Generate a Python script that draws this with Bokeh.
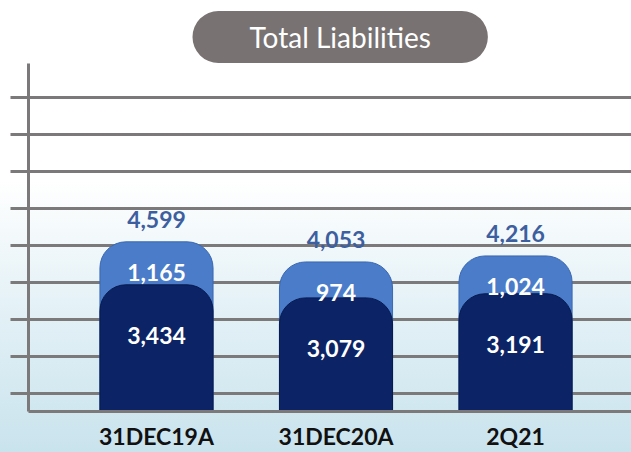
from bokeh.plotting import figure
from bokeh.models import ColumnDataSource, Range1d, FixedTicker
from bokeh.core.properties import value
from bokeh.embed import file_html
from bokeh.resources import INLINE

# ---- data ----
categories = ["31DEC19A", "31DEC20A", "2Q21"]
base_values = [3434, 3079, 3191]
upper_values = [1165, 974, 1024]
totals = [4599, 4053, 4216]
grid_values = [500, 1500, 2500, 3500, 4500, 5500, 6500, 7500, 8500]
title_text = "Total Liabilities"

xs = list(range(len(categories)))
src = ColumnDataSource(dict(
    x=xs,
    base=base_values,
    total=totals,
    base_label=[f"{v:,}" for v in base_values],
    upper_label=[f"{v:,}" for v in upper_values],
    total_label=[f"{v:,}" for v in totals],
))

GRAY = "#7b7979"
FONT = value("Lato")

p = figure(width=631, height=452,
           x_range=Range1d(-0.713, 2.646), y_range=Range1d(0, 9432),
           output_backend="svg", toolbar_location=None,
           min_border_left=28, min_border_right=0,
           min_border_top=63, min_border_bottom=40,
           title=title_text)

p.background_fill_color = None
p.border_fill_color = None
p.outline_line_color = None
p.styles = {"background": "linear-gradient(to bottom, #ffffff 0%, #ffffff 40%, #e9f4f8 62%, #c9e3ed 100%)"}

# title pill
t = p.title
t.align = "left"
t.offset = 164
t.standoff = 1
t.text_color = "white"
t.text_font = "Lato"
t.text_font_style = "normal"
t.text_font_size = "28px"
t.background_fill_color = "#787272"
t.border_radius = 26
t.padding = {"left": 57, "right": 57, "top": 9, "bottom": 9}

# grid
p.xgrid.visible = False
p.ygrid.ticker = FixedTicker(ticks=grid_values)
p.ygrid.grid_line_color = GRAY
p.ygrid.grid_line_width = 3

# y axis: only line + outward stubs
p.yaxis.ticker = FixedTicker(ticks=grid_values)
p.yaxis.axis_line_color = GRAY
p.yaxis.axis_line_width = 3
p.yaxis.major_tick_out = 18
p.yaxis.major_tick_in = 0
p.yaxis.major_tick_line_color = GRAY
p.yaxis.major_tick_line_width = 3
p.yaxis.minor_tick_out = 0
p.yaxis.minor_tick_in = 0
p.yaxis.major_label_overrides = {v: "" for v in grid_values}
p.yaxis.major_label_standoff = 0

# x axis
p.xaxis.ticker = FixedTicker(ticks=xs)
p.xaxis.major_label_overrides = {i: c for i, c in zip(xs, categories)}
p.xaxis.axis_line_color = GRAY
p.xaxis.axis_line_width = 3
p.xaxis.major_tick_out = 0
p.xaxis.major_tick_in = 0
p.xaxis.minor_tick_out = 0
p.xaxis.minor_tick_in = 0
p.xaxis.major_label_standoff = 10
p.xaxis.major_label_text_font = "Lato"
p.xaxis.major_label_text_font_style = "bold"
p.xaxis.major_label_text_font_size = "23px"
p.xaxis.major_label_text_color = "#111111"

# bars
p.vbar(x="x", top="total", bottom=0, width=0.63, source=src,
       fill_color="#4a7cc9", line_color="#3a68b0", line_width=1,
       border_radius=(26, 26, 0, 0))
p.vbar(x="x", top="base", bottom=0, width=0.63, source=src,
       fill_color="#0c2466", line_color="#081a4e", line_width=1,
       border_radius=(26, 26, 0, 0))

# labels
p.text(x="x", y="total", text="total_label", source=src, y_offset=-22,
       text_align="center", text_baseline="middle", text_color="#3d5f9f",
       text_font=FONT, text_font_style="bold", text_font_size="23px")
p.text(x="x", y="total", text="upper_label", source=src, y_offset=31,
       text_align="center", text_baseline="middle", text_color="white",
       text_font=FONT, text_font_style="bold", text_font_size="23px")
p.text(x="x", y="base", text="base_label", source=src, y_offset=51,
       text_align="center", text_baseline="middle", text_color="white",
       text_font=FONT, text_font_style="bold", text_font_size="23px")

open("out.html", "w").write(file_html(p, INLINE))
